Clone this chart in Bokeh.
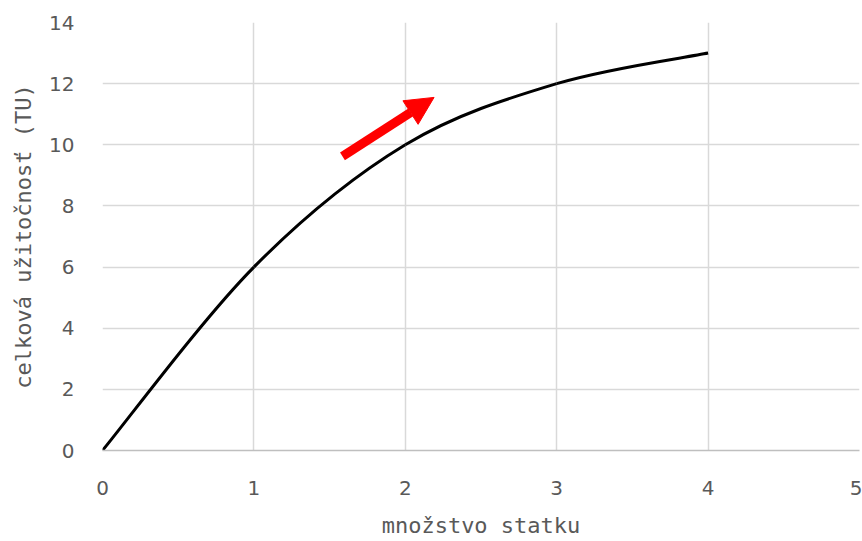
from bokeh.plotting import figure
from bokeh.models import Range1d, Arrow, NormalHead, FixedTicker
from bokeh.embed import file_html
from bokeh.resources import INLINE

# data
quantity = [0, 1, 2, 3, 4]
total_utility = [0, 6, 10, 12, 13]
arrow_start = (1.585, 9.62)
arrow_end = (2.19, 11.55)
x_ticks = [0, 1, 2, 3, 4, 5]
y_ticks = [0, 2, 4, 6, 8, 10, 12, 14]

FONT = "DejaVu Sans"
LABEL_FONT = "DejaVu Sans Mono"
TXT = "#595959"

p = figure(width=862, height=541, output_backend="svg", toolbar_location=None,
           x_range=Range1d(0, 5), y_range=Range1d(0, 14),
           min_border_left=102, min_border_right=3, min_border_top=22, min_border_bottom=91)
p.outline_line_color = None
p.background_fill_color = "white"
p.border_fill_color = "white"

# smoothed line (Excel-style Catmull-Rom Bezier segments)
n = len(quantity)
x0s, y0s, x1s, y1s, cx0, cy0, cx1, cy1 = [], [], [], [], [], [], [], []
for i in range(n - 1):
    pa = (quantity[max(i - 1, 0)], total_utility[max(i - 1, 0)])
    p1 = (quantity[i], total_utility[i])
    p2 = (quantity[i + 1], total_utility[i + 1])
    pb = (quantity[min(i + 2, n - 1)], total_utility[min(i + 2, n - 1)])
    x0s.append(p1[0]); y0s.append(p1[1]); x1s.append(p2[0]); y1s.append(p2[1])
    cx0.append(p1[0] + (p2[0] - pa[0]) / 6); cy0.append(p1[1] + (p2[1] - pa[1]) / 6)
    cx1.append(p2[0] - (pb[0] - p1[0]) / 6); cy1.append(p2[1] - (pb[1] - p1[1]) / 6)
p.bezier(x0=x0s, y0=y0s, x1=x1s, y1=y1s, cx0=cx0, cy0=cy0, cx1=cx1, cy1=cy1,
         line_color="black", line_width=3)

p.add_layout(Arrow(end=NormalHead(size=28, fill_color="#ff0000", line_color="#ff0000"),
                   x_start=arrow_start[0], y_start=arrow_start[1],
                   x_end=arrow_end[0], y_end=arrow_end[1],
                   line_color="#ff0000", line_width=9))

for ax in (p.xaxis[0], p.yaxis[0]):
    ax.major_tick_line_color = None
    ax.minor_tick_line_color = None
    ax.major_label_text_font = FONT
    ax.major_label_text_font_size = "20px"
    ax.major_label_text_color = TXT
    ax.axis_label_text_font = LABEL_FONT
    ax.axis_label_text_font_size = "22px"
    ax.axis_label_text_color = TXT
    ax.axis_label_text_font_style = "normal"

p.xaxis.ticker = FixedTicker(ticks=x_ticks)
p.yaxis.ticker = FixedTicker(ticks=y_ticks)
p.xaxis.axis_line_color = "#bfbfbf"
p.xaxis.axis_line_width = 1.5
p.yaxis.axis_line_color = None
p.xaxis.major_label_standoff = 24
p.yaxis.major_label_standoff = 22
p.xaxis.axis_label = "množstvo statku"
p.yaxis.axis_label = "celková užitočnosť (TU)"
p.xaxis.axis_label_standoff = 15
p.yaxis.axis_label_standoff = 10

p.xgrid.ticker = FixedTicker(ticks=x_ticks)
p.ygrid.ticker = FixedTicker(ticks=y_ticks)
p.grid.grid_line_color = "#d9d9d9"
p.grid.grid_line_width = 1.5

open("out.html", "w").write(file_html(p, INLINE))
